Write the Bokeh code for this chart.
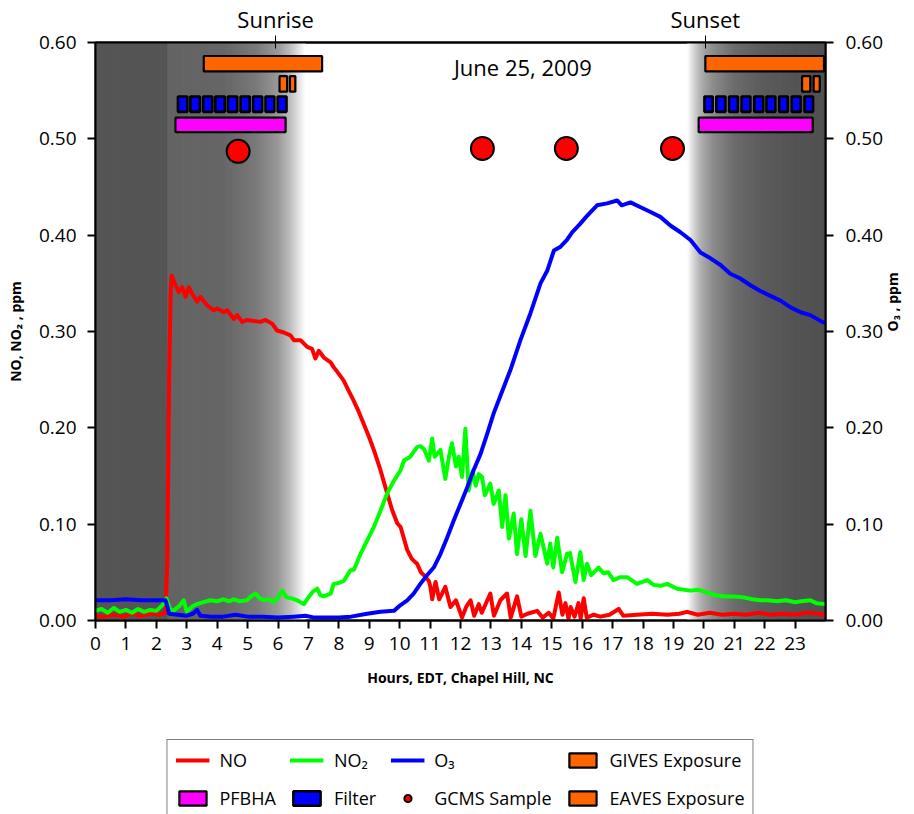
import math
import numpy as np
from bokeh.plotting import figure
from bokeh.layouts import column
from bokeh.models import (Range1d, LinearAxis, FixedTicker, NumeralTickFormatter,
                          Legend, LegendItem, Label, CustomJSTickFormatter)
from bokeh.embed import file_html
from bokeh.resources import INLINE

# ---------------- data ----------------
no_t = [0, 0.3, 0.6, 0.9, 1.2, 1.5, 1.8, 2.1, 2.3, 2.36, 2.42, 2.47, 2.50, 2.63, 2.74, 2.85,
        2.96, 3.07, 3.18, 3.34, 3.45, 3.67, 3.89, 4.00, 4.22, 4.33, 4.55, 4.66, 4.82, 4.99,
        5.20, 5.42, 5.59, 5.81, 5.97, 6.19, 6.41, 6.52, 6.74, 6.96, 7.12, 7.23, 7.34, 7.51,
        7.73, 7.83, 8.00, 8.16, 8.30, 8.49, 8.65, 8.82, 9.00, 9.15, 9.37, 9.59, 9.75, 9.92,
        10.03, 10.25, 10.40, 10.57, 10.70, 10.80, 10.96, 11.01, 11.07, 11.18, 11.30, 11.50,
        11.67, 11.85, 12.05, 12.20, 12.33, 12.45, 12.60, 12.70, 12.98, 13.10, 13.31, 13.53,
        13.65, 13.86, 14.00, 14.20, 14.52, 14.70, 14.90, 15.05, 15.23, 15.35, 15.45, 15.55,
        15.62, 15.75, 15.88, 15.95, 16.05, 16.15, 16.38, 16.60, 16.90, 17.20, 17.35, 17.80,
        18.30, 18.80, 19.20, 19.45, 19.80, 20.20, 20.60, 21.00, 21.40, 21.80, 22.20, 22.60,
        23.00, 23.40, 23.80, 24.00]
no_v = [0.005, 0.004, 0.006, 0.004, 0.007, 0.005, 0.007, 0.006, 0.008, 0.060, 0.250, 0.340, 0.358, 0.348, 0.341, 0.346,
        0.336, 0.346, 0.339, 0.331, 0.336, 0.327, 0.322, 0.324, 0.320, 0.322, 0.313, 0.317, 0.310, 0.312,
        0.311, 0.310, 0.312, 0.308, 0.301, 0.299, 0.296, 0.291, 0.291, 0.284, 0.282, 0.272, 0.280, 0.273,
        0.268, 0.263, 0.256, 0.249, 0.240, 0.228, 0.217, 0.204, 0.190, 0.177, 0.156, 0.132, 0.115, 0.101,
        0.097, 0.073, 0.064, 0.059, 0.050, 0.047, 0.041, 0.035, 0.022, 0.040, 0.022, 0.035,
        0.014, 0.021, 0.003, 0.015, 0.021, 0.005, 0.017, 0.008, 0.028, 0.005, 0.021, 0.028,
        0.003, 0.025, 0.004, 0.007, 0.010, 0.003, 0.008, 0.002, 0.029, 0.006, 0.018, 0.002,
        0.014, 0.004, 0.018, 0.002, 0.023, 0.003, 0.006, 0.004, 0.006, 0.012, 0.005, 0.006,
        0.007, 0.006, 0.007, 0.009, 0.006, 0.008, 0.006, 0.007, 0.006, 0.008, 0.006, 0.007,
        0.006, 0.008, 0.007, 0.005]

no2_t = [0, 0.2, 0.4, 0.6, 0.8, 1.0, 1.2, 1.4, 1.6, 1.8, 2.0, 2.2, 2.33, 2.45, 2.56, 2.75,
         2.90, 3.00, 3.20, 3.34, 3.55, 3.78, 4.00, 4.20, 4.40, 4.54, 4.75, 4.98, 5.15, 5.26,
         5.40, 5.53, 5.70, 5.86, 6.00, 6.14, 6.28, 6.45, 6.63, 6.85, 7.00, 7.15, 7.29, 7.40,
         7.50, 7.73, 7.83, 8.00, 8.16, 8.38, 8.50, 8.71, 8.93, 9.15, 9.37, 9.59, 9.81, 10.03,
         10.14, 10.35, 10.57, 10.68, 10.80, 10.96, 11.07, 11.15, 11.34, 11.50, 11.62, 11.72,
         11.85, 11.94, 12.05, 12.16, 12.27, 12.40, 12.50, 12.60, 12.71, 12.80, 12.98, 13.09,
         13.26, 13.37, 13.48, 13.59, 13.75, 13.86, 14.00, 14.14, 14.30, 14.46, 14.63, 14.85,
         14.95, 15.05, 15.18, 15.34, 15.50, 15.60, 15.78, 15.94, 16.05, 16.16, 16.30, 16.54,
         16.70, 16.86, 17.03, 17.25, 17.48, 17.80, 18.14, 18.35, 18.57, 18.80, 19.12, 19.56,
         19.80, 20.00, 20.20, 20.43, 20.70, 21.00, 21.30, 21.60, 21.86, 22.10, 22.40, 22.70,
         23.00, 23.20, 23.50, 23.70, 24.00]
no2_v = [0.010, 0.012, 0.008, 0.013, 0.009, 0.011, 0.008, 0.012, 0.009, 0.011, 0.010, 0.016, 0.023, 0.012, 0.010, 0.015,
         0.021, 0.009, 0.015, 0.017, 0.019, 0.021, 0.020, 0.022, 0.020, 0.022, 0.020, 0.021, 0.026, 0.028,
         0.023, 0.021, 0.022, 0.019, 0.024, 0.031, 0.024, 0.023, 0.021, 0.017, 0.024, 0.030, 0.033, 0.026,
         0.025, 0.028, 0.038, 0.039, 0.041, 0.052, 0.053, 0.069, 0.083, 0.097, 0.114, 0.132, 0.145, 0.156,
         0.166, 0.170, 0.180, 0.181, 0.178, 0.166, 0.189, 0.170, 0.177, 0.147, 0.170, 0.184,
         0.160, 0.170, 0.149, 0.199, 0.135, 0.155, 0.140, 0.152, 0.149, 0.130, 0.142, 0.121,
         0.135, 0.097, 0.130, 0.085, 0.111, 0.069, 0.105, 0.067, 0.114, 0.067, 0.090, 0.059,
         0.080, 0.055, 0.086, 0.050, 0.069, 0.070, 0.040, 0.071, 0.042, 0.059, 0.047, 0.055,
         0.049, 0.050, 0.042, 0.045, 0.045, 0.038, 0.042, 0.037, 0.036, 0.038, 0.033, 0.031,
         0.032, 0.030, 0.028, 0.026, 0.025, 0.025, 0.024, 0.022, 0.021, 0.021, 0.020, 0.021,
         0.019, 0.020, 0.021, 0.018, 0.017]

o3_t = [0, 0.5, 1.0, 1.5, 2.0, 2.30, 2.36, 2.42, 2.70, 3.00, 3.20, 3.34, 3.45, 3.80, 4.20,
        4.60, 5.00, 5.50, 6.00, 6.50, 6.90, 7.20, 7.60, 8.00, 8.40, 8.93, 9.37, 9.81, 10.03,
        10.25, 10.46, 10.68, 10.90, 11.12, 11.34, 11.56, 11.78, 12.00, 12.22, 12.43, 12.66,
        12.88, 13.09, 13.31, 13.64, 13.97, 14.30, 14.63, 14.85, 15.07, 15.29, 15.50, 15.67,
        15.94, 16.16, 16.49, 16.82, 17.15, 17.30, 17.59, 17.92, 18.25, 18.57, 18.90, 19.23,
        19.56, 19.89, 20.22, 20.55, 20.87, 21.20, 21.53, 21.86, 22.19, 22.52, 22.85, 23.18,
        23.50, 23.89, 24.00]
o3_v = [0.021, 0.021, 0.022, 0.021, 0.021, 0.021, 0.015, 0.007, 0.006, 0.005, 0.007, 0.011, 0.005, 0.004, 0.004,
        0.006, 0.004, 0.004, 0.003, 0.004, 0.005, 0.003, 0.003, 0.003, 0.004, 0.007, 0.009, 0.010, 0.016,
        0.021, 0.028, 0.038, 0.047, 0.055, 0.069, 0.086, 0.104, 0.121, 0.138, 0.156, 0.173,
        0.194, 0.215, 0.233, 0.260, 0.291, 0.319, 0.350, 0.363, 0.384, 0.388, 0.395, 0.403,
        0.412, 0.420, 0.431, 0.433, 0.436, 0.431, 0.434, 0.429, 0.424, 0.419, 0.410, 0.403,
        0.395, 0.382, 0.376, 0.369, 0.360, 0.355, 0.348, 0.342, 0.337, 0.332, 0.325, 0.320,
        0.317, 0.310, 0.309]

gives_start = [3.56, 20.05]
gives_end = [7.45, 23.95]
eaves_start = [6.05, 6.39, 23.23, 23.61]
eaves_end = [6.30, 6.57, 23.50, 23.81]
filter_start = [2.71, 3.12, 3.54, 3.94, 4.35, 4.77, 5.18, 5.59, 5.99,
                20.02, 20.41, 20.83, 21.24, 21.66, 22.06, 22.48, 22.89, 23.31]
filter_end = [3.02, 3.43, 3.84, 4.25, 4.66, 5.07, 5.48, 5.88, 6.28,
              20.29, 20.71, 21.12, 21.53, 21.95, 22.35, 22.76, 23.18, 23.59]
pfbha_start = [2.63, 19.83]
pfbha_end = [6.25, 23.58]
gcms_t = [4.69, 12.72, 15.48, 18.97]
gcms_y = [0.487, 0.490, 0.490, 0.490]

sun_hours = [5.92, 20.05]
sun_labels = ["Sunrise", "Sunset"]
x_ticks = list(range(24))
y_ticks = [0.0, 0.1, 0.2, 0.3, 0.4, 0.5, 0.6]

# ---------------- styles ----------------
FONT = "Open Sans"
C_NO, C_NO2, C_O3 = "#FF0000", "#00FF00", "#0000FF"
C_GIVES, C_FILTER, C_PFBHA = "#FF6600", "#0000FF", "#FF00FF"
# grey shading gradient stops (hour, grey level)
night_am_h = [0, 2.35, 2.36, 4.2, 5.3, 6.0, 6.4, 6.64, 6.9]
night_am_g = [85, 85, 100, 102, 122, 153, 190, 221, 255]
night_pm_h = [19.45, 19.6, 19.8, 20.0, 20.3, 21.0, 21.9, 23.0, 24.0]
night_pm_g = [255, 225, 190, 165, 140, 108, 92, 84, 80]

p = figure(width=914, height=738, output_backend="svg", toolbar_location=None,
           x_range=Range1d(0, 24), y_range=Range1d(0, 0.6),
           min_border_left=95, min_border_right=89, min_border_top=42, min_border_bottom=118)
p.extra_y_ranges = {"o3": Range1d(0, 0.6)}
p.grid.visible = False
p.outline_line_color = "black"
p.outline_line_width = 2
p.background_fill_color = "white"
p.border_fill_color = "white"

def shade(hs, gs, step=0.04):
    edges = np.arange(hs[0], hs[-1] + 1e-9, step)
    if edges[-1] < hs[-1]:
        edges = np.append(edges, hs[-1])
    lefts = edges[:-1]
    rights = edges[1:]
    mids = (lefts + rights) / 2
    g = np.interp(mids, hs, gs).round().astype(int)
    cols = ["#%02x%02x%02x" % (v, v, v) for v in g]
    p.quad(left=lefts, right=np.minimum(rights + step, hs[-1]), bottom=0, top=0.6,
           fill_color=cols, line_color=None)

shade(night_am_h, night_am_g)
shade(night_pm_h, night_pm_g)

LW = 4
p.line(no_t, no_v, line_color=C_NO, line_width=LW, line_join="round")
p.line(no2_t, no2_v, line_color=C_NO2, line_width=LW, line_join="round")
p.line(o3_t, o3_v, line_color=C_O3, line_width=LW, line_join="round", y_range_name="o3")

BL = dict(line_color="black", line_width=2.2)
p.quad(left=gives_start, right=gives_end, bottom=0.570, top=0.586, fill_color=C_GIVES, **BL)
p.quad(left=eaves_start, right=eaves_end, bottom=0.549, top=0.565, fill_color=C_GIVES, **BL)
p.quad(left=filter_start, right=filter_end, bottom=0.528, top=0.544,
       fill_color=C_FILTER, line_color="black", line_width=2.6)
p.quad(left=pfbha_start, right=pfbha_end, bottom=0.507, top=0.522, fill_color=C_PFBHA, **BL)
p.scatter(gcms_t, gcms_y, size=23, marker="circle", fill_color=C_NO,
          line_color="black", line_width=2)

p.add_layout(Label(x=14.05, y=0.575, text="June 25, 2009", text_align="center",
                   text_baseline="middle", text_font=FONT, text_font_size="22px",
                   text_color="black"))

def style_axis(ax, ticks):
    ax.ticker = FixedTicker(ticks=ticks)
    ax.minor_tick_line_color = None
    ax.major_tick_in = 0
    ax.major_tick_out = 8
    ax.major_tick_line_color = "black"
    ax.major_tick_line_width = 2
    ax.axis_line_color = "black"
    ax.axis_line_width = 2
    ax.major_label_text_font = FONT
    ax.major_label_text_font_size = "19px"
    ax.major_label_text_color = "black"
    ax.axis_label_text_font = FONT
    ax.axis_label_text_font_size = "14px"
    ax.axis_label_text_font_style = "bold"
    ax.axis_label_text_color = "black"

xa = p.xaxis[0]
style_axis(xa, x_ticks)
xa.axis_label = "Hours, EDT, Chapel Hill, NC"
xa.major_label_standoff = 8
xa.axis_label_standoff = 15

ya = p.yaxis[0]
style_axis(ya, y_ticks)
ya.formatter = NumeralTickFormatter(format="0.00")
ya.axis_label = "NO, NO₂ , ppm"
ya.major_label_standoff = 11
ya.axis_label_standoff = 11

yr = LinearAxis(y_range_name="o3")
style_axis(yr, y_ticks)
yr.formatter = NumeralTickFormatter(format="0.00")
yr.axis_label = "O₃ , ppm"
yr.major_label_standoff = 12
yr.axis_label_standoff = 6
yr.axis_label_orientation = math.pi / 2
p.add_layout(yr, "right")

top = LinearAxis(ticker=FixedTicker(ticks=sun_hours))
top.formatter = CustomJSTickFormatter(args=dict(h=sun_hours, l=sun_labels),
                                      code="return Math.abs(tick - h[0]) < 1 ? l[0] : l[1];")
top.minor_tick_line_color = None
top.major_tick_in = 6
top.major_tick_out = 7
top.major_tick_line_color = "black"
top.major_tick_line_width = 1
top.axis_line_color = "black"
top.axis_line_width = 2
top.major_label_standoff = 2
top.major_label_text_font = FONT
top.major_label_text_font_size = "22px"
top.major_label_text_color = "black"
p.add_layout(top, "above")

# ---------------- legend (own small canvas below the chart) ----------------
lg = figure(width=914, height=76, output_backend="svg", toolbar_location=None,
            x_range=Range1d(0, 1), y_range=Range1d(0, 1),
            x_axis_location=None, y_axis_location=None,
            min_border=0, min_border_left=0, min_border_right=0,
            min_border_top=0, min_border_bottom=0)
lg.grid.visible = False
lg.outline_line_color = None
lg.background_fill_color = "white"
lg.border_fill_color = "white"

# legend sample glyphs, parked outside the visible range of the legend canvas
ox = [-5, -4]
oy = [-5, -5]
l_no = lg.line(ox, oy, line_color=C_NO, line_width=LW)
l_no2 = lg.line(ox, oy, line_color=C_NO2, line_width=LW)
l_o3 = lg.line(ox, oy, line_color=C_O3, line_width=LW)
l_gives = lg.quad(left=[-5], right=[-4], bottom=[-5], top=[-4], fill_color=C_GIVES, **BL)
l_pfbha = lg.quad(left=[-5], right=[-4], bottom=[-5], top=[-4], fill_color=C_PFBHA, **BL)
l_filter = lg.quad(left=[-5], right=[-4], bottom=[-5], top=[-4], fill_color=C_FILTER,
                   line_color="black", line_width=2.6)
l_gcms = lg.scatter([-5], [-5], marker="circle", size=23, fill_color=C_NO,
                    line_color="black", line_width=2)
l_eaves = lg.quad(left=[-5], right=[-4], bottom=[-5], top=[-4], fill_color=C_GIVES, **BL)

legend = Legend(items=[
    LegendItem(label="NO", renderers=[l_no]),
    LegendItem(label="NO₂", renderers=[l_no2]),
    LegendItem(label="O₃", renderers=[l_o3]),
    LegendItem(label="GIVES Exposure", renderers=[l_gives]),
    LegendItem(label="PFBHA", renderers=[l_pfbha]),
    LegendItem(label="Filter", renderers=[l_filter]),
    LegendItem(label="GCMS Sample", renderers=[l_gcms]),
    LegendItem(label="EAVES Exposure", renderers=[l_eaves]),
], orientation="horizontal", nrows=2, location="top_center")
legend.label_text_font = FONT
legend.label_text_font_size = "18px"
legend.label_text_color = "black"
legend.glyph_width = 34
legend.glyph_height = 18
legend.label_standoff = 10
legend.spacing = 14
legend.padding = 8
legend.margin = 1
legend.border_line_color = "black"
legend.border_line_width = 1
legend.background_fill_color = "white"
legend.background_fill_alpha = 1
lg.add_layout(legend, "center")

layout = column(p, lg, spacing=0)
open("out.html", "w").write(file_html(layout, INLINE))
